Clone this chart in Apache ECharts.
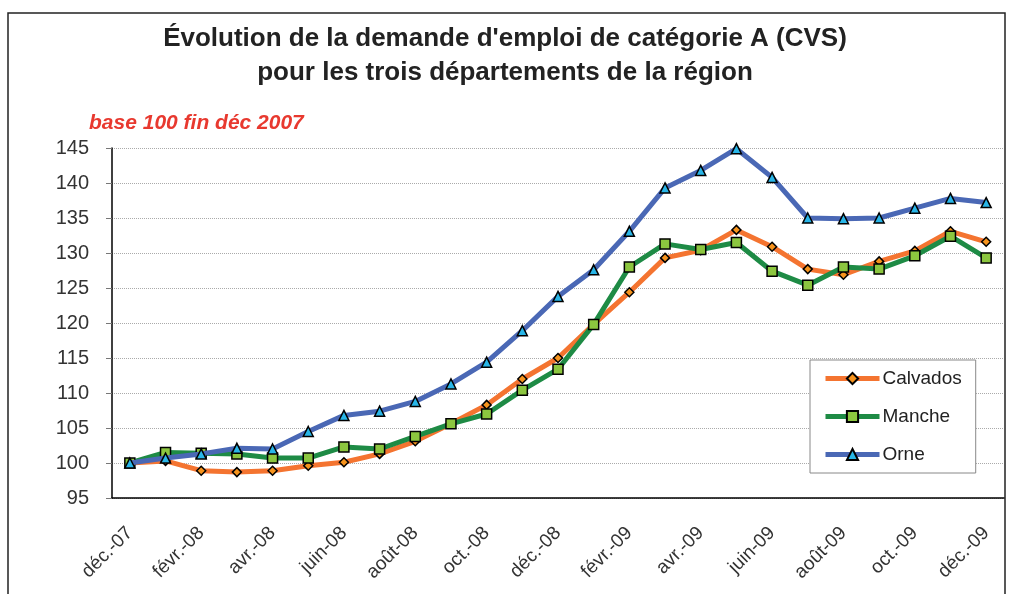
<!DOCTYPE html>
<html>
<head>
<meta charset="utf-8">
<script src="https://cdn.jsdelivr.net/npm/echarts@6/dist/echarts.min.js"></script>
<style>
  html, body { margin: 0; padding: 0; background: #fff; }
  #main { width: 1010px; height: 594px; }
</style>
</head>
<body>
<div id="main"></div>
<script>
// mois de déc. 2007 à déc. 2009
var mois = ['déc.-07','janv.-08','févr.-08','mars-08','avr.-08','mai-08','juin-08','juil.-08','août-08','sept.-08','oct.-08','nov.-08',
            'déc.-08','janv.-09','févr.-09','mars-09','avr.-09','mai-09','juin-09','juil.-09','août-09','sept.-09','oct.-09','nov.-09','déc.-09'];

var calvados = [100, 100.3, 98.9, 98.7, 98.9, 99.6, 100.1, 101.3, 103.1, 105.6, 108.3, 112.0,
                115.0, 119.8, 124.4, 129.3, 130.4, 133.3, 130.9, 127.7, 126.9, 128.8, 130.3, 133.1, 131.6];
var manche   = [100, 101.5, 101.4, 101.3, 100.7, 100.7, 102.3, 102.0, 103.8, 105.6, 107.0, 110.4,
                113.4, 119.8, 128.0, 131.3, 130.5, 131.5, 127.4, 125.4, 128.0, 127.7, 129.6, 132.4, 129.3];
var orne     = [100, 100.7, 101.3, 102.1, 102.0, 104.5, 106.8, 107.4, 108.8, 111.3, 114.4, 118.9,
                123.8, 127.6, 133.1, 139.3, 141.8, 144.9, 140.8, 135.0, 134.9, 135.0, 136.4, 137.8, 137.2];

var myChart = echarts.init(document.getElementById('main'));

var police = 'Liberation Sans, Arial, sans-serif';

option = {
    backgroundColor: '#fff',
    textStyle: { fontFamily: police },
    title: [
        {
            text: "Évolution de la demande d'emploi de catégorie A (CVS)",
            left: 'center',
            top: 21,
            textStyle: { fontSize: 26, fontWeight: 'bold', color: '#222', fontFamily: police }
        },
        {
            text: 'pour les trois départements de la région',
            left: 'center',
            top: 55,
            textStyle: { fontSize: 26, fontWeight: 'bold', color: '#222', fontFamily: police }
        },
        {
            text: 'base 100 fin déc 2007',
            left: 84,
            top: 108,
            textStyle: { fontSize: 21, fontWeight: 'bold', fontStyle: 'italic', color: '#e8392f', fontFamily: police }
        }
    ],
    graphic: [{
        type: 'rect',
        shape: { x: 8, y: 13, width: 997, height: 600 },
        style: { fill: 'none', stroke: '#222', lineWidth: 1.5 },
        silent: true
    }],
    legend: {
        orient: 'vertical',
        left: 810,
        top: 360,
        width: 166,
        padding: [9, 14, 9, 13],
        itemWidth: 54,
        itemHeight: 14,
        itemGap: 19,
        borderColor: '#888',
        borderWidth: 1,
        backgroundColor: '#fff',
        lineStyle: { width: 5 },
        textStyle: { fontSize: 19, color: '#222', padding: [0, 0, 0, -2] },
        data: ['Calvados', 'Manche', 'Orne']
    },
    grid: { left: 112, right: 6, top: 148, bottom: 96 },
    xAxis: {
        type: 'category',
        boundaryGap: true,
        data: mois,
        axisLine: { lineStyle: { color: '#000', width: 1.5 } },
        axisTick: { interval: 1, length: 6, lineStyle: { color: '#777' } },
        axisLabel: { interval: 1, rotate: 45, fontSize: 19, color: '#333', margin: 32 }
    },
    yAxis: {
        type: 'value',
        min: 95,
        max: 145,
        interval: 5,
        axisLine: { show: true, lineStyle: { color: '#000', width: 1.5 } },
        axisTick: { show: true, length: 6, lineStyle: { color: '#777' } },
        axisLabel: { fontSize: 20, color: '#333', margin: 23 },
        splitLine: { lineStyle: { color: '#aaa', type: 'dotted', width: 1 } }
    },
    series: [
        {
            name: 'Calvados',
            type: 'line',
            data: calvados,
            symbol: 'diamond',
            symbolSize: 9,
            lineStyle: { color: '#f47430', width: 5 },
            itemStyle: { color: '#f7941d', borderColor: '#000', borderWidth: 1.5 },
            z: 3
        },
        {
            name: 'Manche',
            type: 'line',
            data: manche,
            symbol: 'rect',
            symbolSize: 10,
            lineStyle: { color: '#1e8b45', width: 5 },
            itemStyle: { color: '#8cc63f', borderColor: '#000', borderWidth: 1.5 },
            z: 4
        },
        {
            name: 'Orne',
            type: 'line',
            data: orne,
            symbol: 'triangle',
            symbolSize: 10,
            lineStyle: { color: '#4a68b5', width: 5 },
            itemStyle: { color: '#29b6e8', borderColor: '#000', borderWidth: 1.5 },
            z: 5
        }
    ]
};

myChart.setOption(option);
</script>
</body>
</html>
